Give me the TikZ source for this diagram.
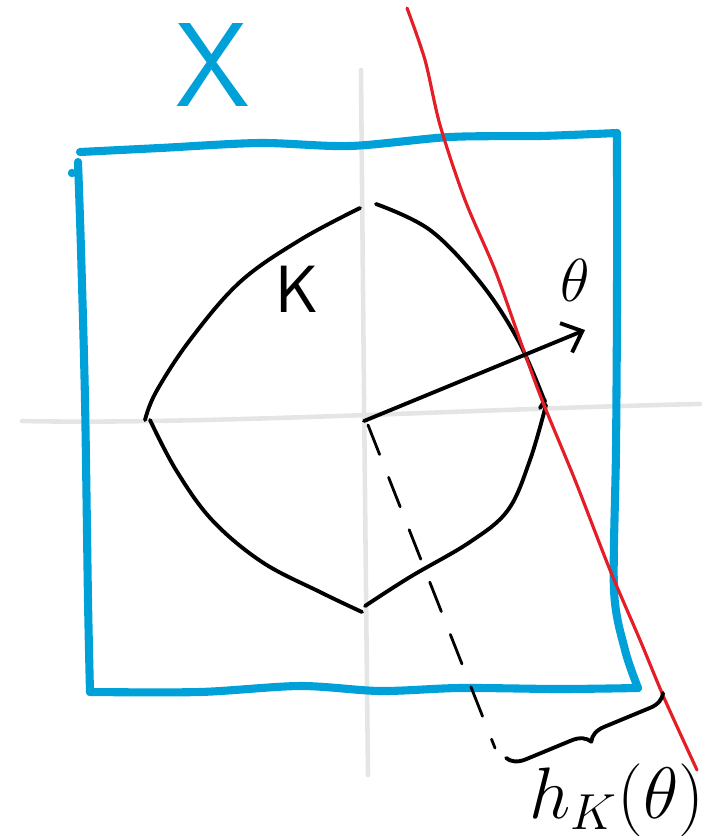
\documentclass[tikz,border=0pt]{standalone}
\usepackage{tikz}
\usetikzlibrary{arrows.meta,decorations.pathreplacing}

\definecolor{setblue}{RGB}{0,160,216}
\definecolor{cutred}{RGB}{228,30,38}
\definecolor{axisgray}{RGB}{228,230,230}

\begin{document}
\begin{tikzpicture}[x=0.01cm, y=-0.01cm, line cap=round, line join=round,
  setline/.style={setblue, line width=2.3pt},
  bodyline/.style={black, line width=1.1pt},
  lbl/.style={inner sep=0pt}]
\useasboundingbox (0,0) rectangle (715,836);

% axes
\coordinate (O) at (364,421);
\draw[axisgray, line width=1.3pt] (22,421) .. controls (200,425) and (500,408) .. (700,404);
\draw[axisgray, line width=1.3pt] (361,70) .. controls (363,300) and (366,600) .. (368,775);

% the square X
\draw[setline] plot[smooth, tension=0.5] coordinates {(80,152) (160,148) (260,143) (350,146) (450,137) (540,136) (617,133)};
\draw[setline] plot[smooth, tension=0.5] coordinates {(617,133) (617,300) (616,450) (614,590) (625,650) (638,688)};
\draw[setline] plot[smooth, tension=0.5] coordinates {(638,688) (560,689) (460,688) (380,691) (300,686) (200,692) (90,692)};
\draw[setline] plot[smooth, tension=0.5] coordinates {(90,692) (88,600) (85,400) (81,250) (78,162)};
\fill[setblue] (72,173) circle (1.2pt);
\node[lbl, setblue, font=\sffamily\fontsize{34}{34}\selectfont] (xlab) at (213,65) {X};

% the body K
\draw[bodyline] plot[smooth, tension=0.6] coordinates {(360,208) (300,240) (240,282) (190,340) (156,392) (145,420)};
\draw[bodyline] plot[smooth, tension=0.6] coordinates {(376,204) (430,230) (480,282) (518,340) (545,402)};
\draw[bodyline] (540,408) -- (545,400);
\draw[bodyline] plot[smooth, tension=0.6] coordinates {(546,405) (530,460) (508,510) (470,542) (410,577) (365,606)};
\draw[bodyline] plot[smooth, tension=0.6] coordinates {(150,420) (176,470) (212,520) (262,562) (320,592) (362,612)};
\node[lbl, font=\sffamily\fontsize{19}{19}\selectfont] (klab) at (297,289) {K};

% support line
\draw[cutred, line width=0.9pt] plot[smooth, tension=0.5] coordinates {(407,8) (425,60) (440,125) (465,200) (495,270) (520,340) (542,400) (575,480) (610,570) (640,640) (665,700) (697,770)};

% direction theta
\coordinate (T) at (585,330);
\draw[bodyline, -{Straight Barb[length=5pt, width=9pt]}] (O) -- (T);
\node[lbl, font=\fontsize{16}{16}\selectfont] (thlab) at (575,280) {$\theta$};

% distance to the support line
\coordinate (D) at (495,748);
\draw[bodyline, line width=0.8pt, dash pattern=on 9pt off 7pt] (O) ++(4,4) -- (D);
\coordinate (B1) at (663,693);
\coordinate (B2) at (506,758);
\draw[bodyline, decorate, decoration={brace, amplitude=5pt}] (B1) -- (B2);
\node[lbl, font=\fontsize{20}{20}\selectfont] (hlab) at (617,800) {$h_K(\theta)$};
\end{tikzpicture}
\end{document}
